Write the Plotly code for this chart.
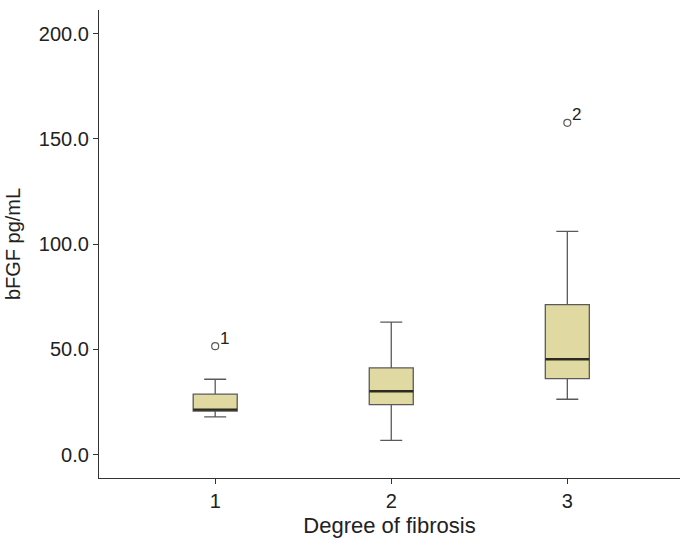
import plotly.graph_objects as go

# Degree of fibrosis groups and box statistics (bFGF pg/mL)
groups = [1, 2, 3]
q1 = [20.7, 23.8, 36.1]
median = [21.4, 30.1, 45.3]
q3 = [28.7, 41.2, 71.3]
lower_fence = [17.9, 6.8, 26.3]
upper_fence = [35.8, 62.9, 106.0]

# outliers with case labels
outlier_x = [1, 3]
outlier_y = [51.5, 157.6]
outlier_labels = ["1", "2"]

tick_vals = [0, 50, 100, 150, 200]

FONT = "Liberation Sans, Arial, sans-serif"
FILL = "#E0DAA2"
EDGE = "#5a5a5a"
BOX_W = 0.25

fig = go.Figure()

fig.add_trace(go.Box(
    x=groups,
    q1=q1,
    median=median,
    q3=q3,
    lowerfence=lower_fence,
    upperfence=upper_fence,
    width=BOX_W,
    whiskerwidth=0.5,
    fillcolor=FILL,
    line=dict(color=EDGE, width=1.3),
    boxpoints=False,
    hoverinfo="skip",
))

# thicker median lines drawn on top
mx, my = [], []
for g, m in zip(groups, median):
    mx += [g - BOX_W / 2, g + BOX_W / 2, None]
    my += [m, m, None]
fig.add_trace(go.Scatter(
    x=mx, y=my, mode="lines",
    line=dict(color="#2b2b20", width=2.4),
    hoverinfo="skip",
))

fig.add_trace(go.Scatter(
    x=outlier_x, y=outlier_y,
    mode="markers",
    marker=dict(symbol="circle-open", size=7, color=EDGE, line=dict(width=1.2)),
    hoverinfo="skip",
))

for ox, oy, lab in zip(outlier_x, outlier_y, outlier_labels):
    fig.add_annotation(
        x=ox, y=oy, text=lab, showarrow=False,
        xanchor="left", yanchor="middle", xshift=3, yshift=8,
        font=dict(family=FONT, size=17, color="#222"),
    )

fig.update_layout(
    width=685,
    height=544,
    margin=dict(l=99, r=5, t=10, b=66, autoexpand=False),
    paper_bgcolor="white",
    plot_bgcolor="white",
    showlegend=False,
    font=dict(family=FONT, size=20, color="#222"),
)

fig.update_xaxes(
    range=[0.34, 3.64],
    tickvals=groups,
    ticktext=[str(g) for g in groups],
    showgrid=False,
    zeroline=False,
    showline=True,
    linecolor="#333",
    linewidth=1.2,
    ticks="outside",
    ticklen=5,
    tickcolor="#333",
    tickfont=dict(size=20),
    automargin=False,
    title=dict(text="Degree of fibrosis", font=dict(size=22), standoff=6),
)

fig.update_yaxes(
    range=[-11.1, 211.2],
    tickvals=tick_vals,
    tickformat=".1f",
    showgrid=False,
    zeroline=False,
    showline=True,
    linecolor="#333",
    linewidth=1.2,
    ticks="outside",
    ticklen=5,
    tickcolor="#333",
    tickfont=dict(size=20),
    automargin=False,
    title=dict(text="bFGF pg/mL", font=dict(size=20), standoff=12),
)

fig.write_html(
    "out.html",
    config={"displayModeBar": False},
    post_script="document.body.style.margin='0';",
)
